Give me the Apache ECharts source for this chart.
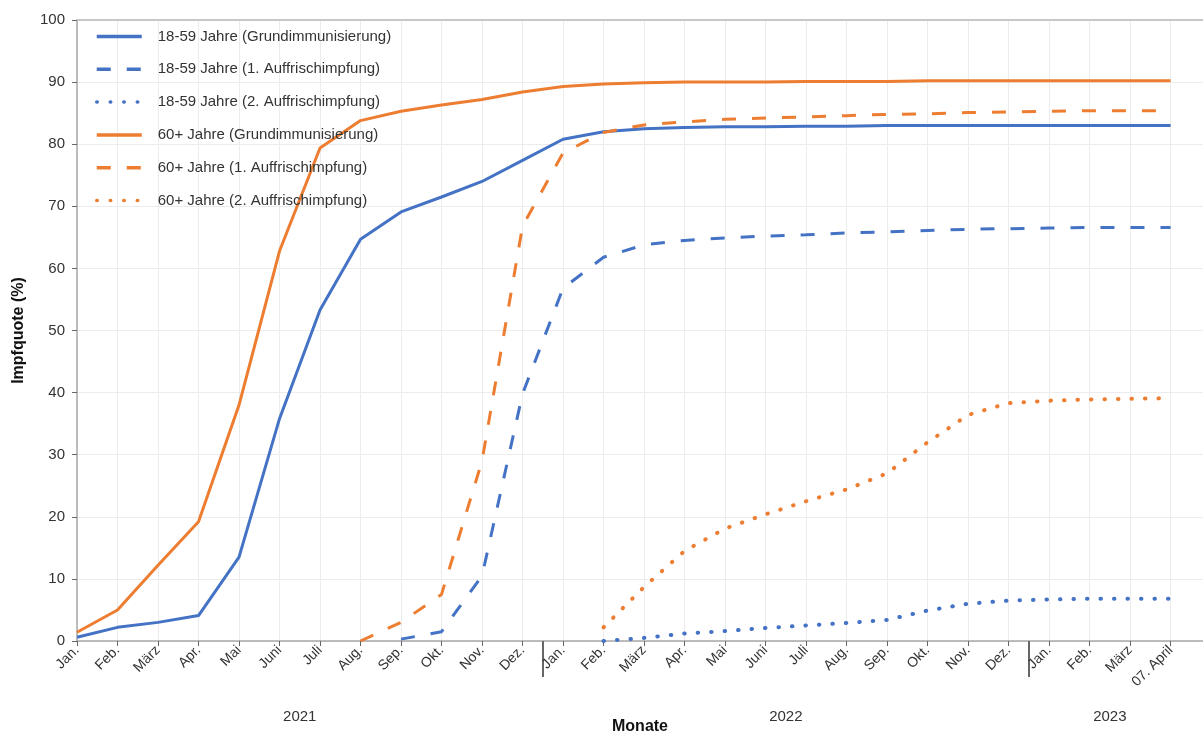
<!DOCTYPE html>
<html>
<head>
<meta charset="utf-8">
<script src="https://cdn.jsdelivr.net/npm/echarts@6/dist/echarts.min.js"></script>
<style>
html,body{margin:0;padding:0;background:#fff;}
#chart{width:1203px;height:733px;}
</style>
</head>
<body>
<div id="chart"></div>
<script>
// ---- data ----
const monthLabels = ['Jan.','Feb.','März','Apr.','Mai','Juni','Juli','Aug.','Sep.','Okt.','Nov.','Dez.',
  'Jan.','Feb.','März','Apr.','Mai','Juni','Juli','Aug.','Sep.','Okt.','Nov.','Dez.',
  'Jan.','Feb.','März','07. April'];
const yearLabels = ['2021','2022','2023'];
const monthsPerYear = [12, 12, 4];
const yTicks = [0,10,20,30,40,50,60,70,80,90,100];

const seriesNames = [
  '18-59 Jahre (Grundimmunisierung)',
  '18-59 Jahre (1. Auffrischimpfung)',
  '18-59 Jahre (2. Auffrischimpfung)',
  '60+ Jahre (Grundimmunisierung)',
  '60+ Jahre (1. Auffrischimpfung)',
  '60+ Jahre (2. Auffrischimpfung)'
];
const young_grund = [0.6, 2.2, 3.0, 4.1, 13.5, 35.8, 53.3, 64.7, 69.1, 71.5, 74.0, 77.4,
  80.8, 82.0, 82.5, 82.7, 82.8, 82.8, 82.9, 82.9, 83.0, 83.0, 83.0, 83.0, 83.0, 83.0, 83.0, 83.0];
const young_b1 = [null, null, null, null, null, null, null, null, 0.3, 1.5, 10.5, 39.8,
  56.8, 61.8, 63.8, 64.5, 64.9, 65.2, 65.4, 65.7, 65.9, 66.1, 66.3, 66.4, 66.5, 66.6, 66.6, 66.6];
const young_b2 = [null, null, null, null, null, null, null, null, null, null, null, null,
  null, 0.0, 0.5, 1.2, 1.6, 2.1, 2.5, 2.9, 3.4, 4.9, 6.0, 6.5, 6.7, 6.8, 6.8, 6.8];
const old_grund = [1.4, 5.0, 12.2, 19.2, 38.0, 62.8, 79.4, 83.8, 85.3, 86.3, 87.2, 88.4,
  89.3, 89.7, 89.9, 90.0, 90.0, 90.0, 90.1, 90.1, 90.1, 90.2, 90.2, 90.2, 90.2, 90.2, 90.2, 90.2];
const old_b1 = [null, null, null, null, null, null, null, 0.0, 3.0, 7.5, 29.0, 66.8,
  78.6, 81.9, 83.1, 83.6, 84.0, 84.2, 84.4, 84.6, 84.8, 84.9, 85.1, 85.2, 85.3, 85.4, 85.4, 85.4];
const old_b2 = [null, null, null, null, null, null, null, null, null, null, null, null,
  null, 2.2, 8.7, 14.5, 18.1, 20.4, 22.5, 24.4, 27.0, 32.0, 36.4, 38.3, 38.7, 38.9, 39.0, 39.1];

// ---- build ----
const BLUE = '#4472C4', ORANGE = '#ED7D31';
const FONT = '"Liberation Sans", Arial, sans-serif';

function pairs(arr){ const out=[]; arr.forEach((v,i)=>{ if(v!==null) out.push([i,v]); }); return out; }

// year group centres and boundaries (in category index units)
const yearCenters = [], yearBounds = [];
let start = 0;
monthsPerYear.forEach((n, k) => {
  yearCenters.push(start + (n - 1) / 2);
  if (k < monthsPerYear.length - 1) yearBounds.push(start + n - 0.5);
  start += n;
});
const xMax = monthLabels.length - 1 + 0.8;

const styles = [
  {color: BLUE, type: 'solid'},
  {color: BLUE, type: [14, 16]},
  {color: BLUE, type: [0.5, 13], dot: true},
  {color: ORANGE, type: 'solid'},
  {color: ORANGE, type: [14, 16]},
  {color: ORANGE, type: [0.5, 13], dot: true}
];
const values = [young_grund, young_b1, young_b2, old_grund, old_b1, old_b2];

const series = values.map((arr, k) => ({
  name: seriesNames[k],
  type: 'line',
  data: pairs(arr),
  symbol: 'none',
  xAxisIndex: 0,
  yAxisIndex: 0,
  lineStyle: {
    color: styles[k].color,
    width: styles[k].dot ? 4 : 3,
    type: styles[k].type,
    cap: styles[k].dot ? 'round' : 'butt'
  },
  itemStyle: {color: styles[k].color},
  z: 3
}));

const chart = echarts.init(document.getElementById('chart'), null, {renderer: 'canvas'});
chart.setOption({
  animation: false,
  textStyle: {fontFamily: FONT},
  grid: {left: 77, right: 0, top: 20, bottom: 92, containLabel: false, outerBoundsMode: 'none'},
  legend: {
    orient: 'vertical',
    left: 90,
    top: 24,
    itemWidth: 45,
    itemHeight: 14,
    itemGap: 17.8,
    data: seriesNames,
    itemStyle: {opacity: 0},
    lineStyle: {width: 3.5},
    textStyle: {fontSize: 15, color: '#333', fontFamily: FONT, padding: [0, 0, 0, 11]}
  },
  xAxis: [
    {
      type: 'value', min: 0, max: xMax, interval: 1, position: 'bottom',
      axisLine: {show: true, lineStyle: {color: '#a8a8a8', width: 1.5}},
      axisTick: {show: true, length: 5, lineStyle: {color: '#666'}},
      axisLabel: {
        rotate: 45, fontSize: 14, color: '#333', margin: 7, fontFamily: FONT,
        showMaxLabel: false,
        formatter: function (v) {
          const r = Math.round(v);
          if (Math.abs(v - r) > 1e-6) return '';
          return monthLabels[r] || '';
        }
      },
      splitLine: {show: true, lineStyle: {color: '#ececec', width: 1}},
      name: 'Monate', nameLocation: 'middle', nameGap: 78,
      nameTextStyle: {fontWeight: 'bold', fontSize: 16, color: '#111', fontFamily: FONT}
    },
    {
      type: 'value', min: 0, max: xMax, position: 'bottom',
      axisLine: {show: false},
      splitLine: {show: false},
      axisTick: {show: true, customValues: yearBounds, length: 36, lineStyle: {color: '#666', width: 2}},
      axisLabel: {
        customValues: yearCenters, fontSize: 15, color: '#333', margin: 68, fontFamily: FONT,
        formatter: function (v) {
          for (let i = 0; i < yearCenters.length; i++) if (Math.abs(yearCenters[i] - v) < 1e-6) return yearLabels[i];
          return '';
        }
      }
    },
    {
      type: 'value', min: 0, max: xMax, position: 'top',
      axisLine: {show: true, lineStyle: {color: '#c8c8c8', width: 2}},
      axisTick: {show: false}, axisLabel: {show: false}, splitLine: {show: false}
    }
  ],
  yAxis: {
    type: 'value', min: yTicks[0], max: yTicks[yTicks.length - 1], interval: yTicks[1] - yTicks[0],
    axisLine: {show: true, lineStyle: {color: '#a8a8a8', width: 1.5}},
    axisTick: {show: true, length: 5, lineStyle: {color: '#666'}},
    axisLabel: {fontSize: 15, color: '#333', margin: 12, fontFamily: FONT},
    splitLine: {show: true, lineStyle: {color: '#ececec', width: 1}},
    name: 'Impfquote (%)', nameLocation: 'middle', nameGap: 50,
    nameTextStyle: {fontWeight: 'bold', fontSize: 16, color: '#111', fontFamily: FONT}
  },
  series: series
});
</script>
</body>
</html>
